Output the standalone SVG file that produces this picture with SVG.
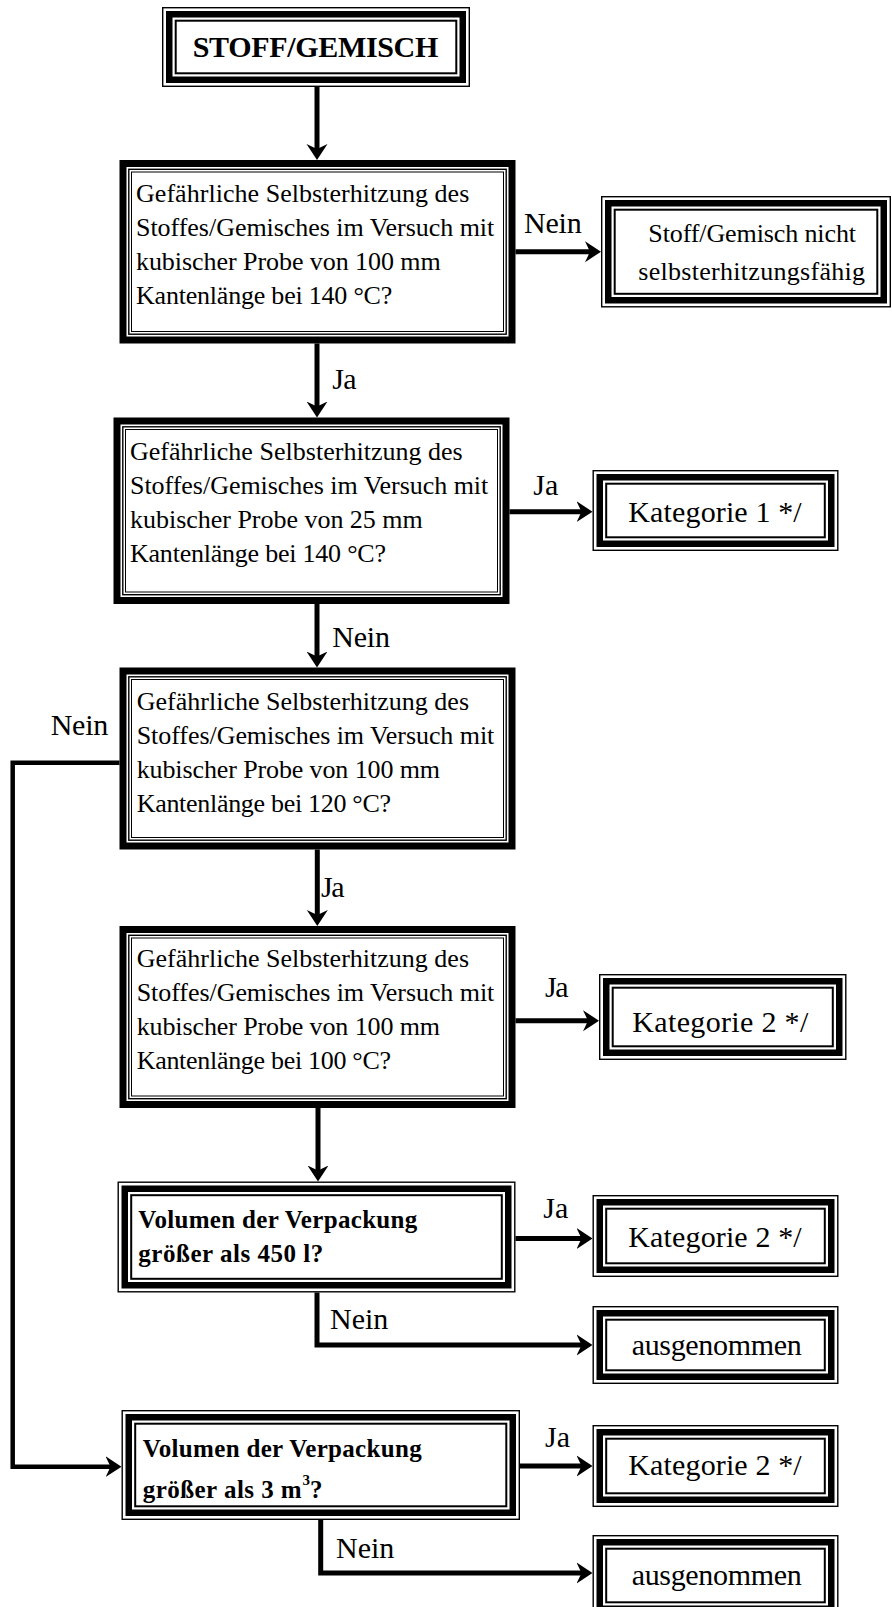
<svg xmlns="http://www.w3.org/2000/svg" width="892" height="1607" viewBox="0 0 892 1607">
<defs>
<style>
.bg{fill:#fff}
.dk{fill:#fff;stroke:#000;stroke-width:7}
.d1{fill:none;stroke:#000;stroke-width:1.4}
.d2{fill:none;stroke:#000;stroke-width:1}
.to{fill:#fff;stroke:#000;stroke-width:1.4}
.tk{fill:none;stroke:#000;stroke-width:6.5}
.ti{fill:none;stroke:#000;stroke-width:2}
.t{font-family:"Liberation Serif","Times New Roman",serif;font-size:26px;fill:#000}
.tb{font-family:"Liberation Serif","Times New Roman",serif;font-size:25px;font-weight:bold;fill:#000}
.tl{font-family:"Liberation Serif","Times New Roman",serif;font-size:30px;fill:#000}
.c{fill:none;stroke:#000;stroke-width:5;stroke-linejoin:miter;stroke-linecap:butt}
</style>
<marker id="ah" markerUnits="userSpaceOnUse" markerWidth="20" markerHeight="24" viewBox="0 -12 20 24" refX="6" refY="0" orient="auto">
<path d="M16,0 L0,-10.5 L5,0 L0,10.5 Z" fill="#000"/>
</marker>
</defs>
<rect class="bg" x="0" y="0" width="892" height="1607"/>

<g id="connectors">
<path class="c" d="M317 87 V150" marker-end="url(#ah)"/>
<path class="c" d="M515.5 251.7 H591" marker-end="url(#ah)"/>
<path class="c" d="M317 343.5 V407.5" marker-end="url(#ah)"/>
<path class="c" d="M509.5 511.7 H582.5" marker-end="url(#ah)"/>
<path class="c" d="M317 604 V657.5" marker-end="url(#ah)"/>
<path class="c" d="M119.5 762.7 H12.7 V1466.7 H111.5" style="stroke-width:4.5" marker-end="url(#ah)"/>
<path class="c" d="M317.3 849.5 V916" marker-end="url(#ah)"/>
<path class="c" d="M515.5 1020.7 H589" marker-end="url(#ah)"/>
<path class="c" d="M318 1108 V1171.5" marker-end="url(#ah)"/>
<path class="c" d="M515.5 1238.5 H582.5" marker-end="url(#ah)"/>
<path class="c" d="M317 1292.5 V1345 H582.5" marker-end="url(#ah)"/>
<path class="c" d="M520 1466 H582.5" marker-end="url(#ah)"/>
<path class="c" d="M320.7 1520 V1573 H582.5" marker-end="url(#ah)"/>
<text class="tl" x="524" y="233.3" textLength="57.7">Nein</text>
<text class="tl" x="332.3" y="389.3" textLength="24.4">Ja</text>
<text class="tl" x="533.3" y="495" textLength="25">Ja</text>
<text class="tl" x="332.3" y="646.7" textLength="57.7">Nein</text>
<text class="tl" x="50.7" y="735" textLength="57.6">Nein</text>
<text class="tl" x="321" y="896.7" textLength="23.5">Ja</text>
<text class="tl" x="545" y="996.7" textLength="23.5">Ja</text>
<text class="tl" x="543.3" y="1218.3" textLength="25">Ja</text>
<text class="tl" x="330" y="1329.3" textLength="58.3">Nein</text>
<text class="tl" x="545" y="1446.7" textLength="25">Ja</text>
<text class="tl" x="336" y="1558.3" textLength="58.3">Nein</text>
</g>

<g id="start">
<rect class="to" x="162.7" y="7.7" width="306.6" height="78.6"/>
<rect class="tk" x="169.25" y="14.25" width="293.5" height="65.5"/>
<rect class="ti" x="175.7" y="20.7" width="280.6" height="52.6"/>
<text class="tb" x="192.7" y="57.3" style="font-size:30px" textLength="245.6">STOFF/GEMISCH</text>
</g>

<g id="q1">
<rect class="dk" x="123" y="163.5" width="389" height="176.5"/>
<rect class="d1" x="128.8" y="169.3" width="377.4" height="164.9"/>
<rect class="d2" x="131.5" y="172" width="372" height="159.5"/>
<text class="t" x="136" y="202" textLength="333.3">Gefährliche Selbsterhitzung des</text>
<text class="t" x="136" y="236" textLength="358.3">Stoffes/Gemisches im Versuch mit</text>
<text class="t" x="136" y="270" textLength="304.7">kubischer Probe von 100 mm</text>
<text class="t" x="136" y="304" textLength="256.3">Kantenlänge bei 140 °C?</text>
</g>

<g id="r0">
<rect class="to" x="601.7" y="196.7" width="288.6" height="110.1"/>
<rect class="tk" x="608.25" y="203.25" width="275.5" height="97"/>
<rect class="ti" x="614.7" y="209.7" width="262.6" height="84.1"/>
<text class="t" x="648.3" y="241.7" textLength="207.7">Stoff/Gemisch nicht</text>
<text class="t" x="638.3" y="280" textLength="226.7">selbsterhitzungsfähig</text>
</g>

<g id="q2">
<rect class="dk" x="117" y="421" width="389" height="179.5"/>
<rect class="d1" x="122.8" y="426.8" width="377.4" height="167.9"/>
<rect class="d2" x="125.5" y="429.5" width="372" height="162.5"/>
<text class="t" x="130" y="460" textLength="332.7">Gefährliche Selbsterhitzung des</text>
<text class="t" x="130" y="494" textLength="358.3">Stoffes/Gemisches im Versuch mit</text>
<text class="t" x="130" y="528" textLength="292.7">kubischer Probe von 25 mm</text>
<text class="t" x="130" y="562" textLength="256">Kantenlänge bei 140 °C?</text>
</g>

<g id="r1">
<rect class="to" x="593.2" y="470.7" width="244.6" height="79.6"/>
<rect class="tk" x="599.75" y="477.25" width="231.5" height="66.5"/>
<rect class="ti" x="606.2" y="483.7" width="218.6" height="53.6"/>
<text class="tl" x="628.3" y="521.7" textLength="173.4">Kategorie 1 */</text>
</g>

<g id="q3">
<rect class="dk" x="123" y="671" width="389" height="175"/>
<rect class="d1" x="128.8" y="676.8" width="377.4" height="163.4"/>
<rect class="d2" x="131.5" y="679.5" width="372" height="158"/>
<text class="t" x="136.7" y="710" textLength="332.3">Gefährliche Selbsterhitzung des</text>
<text class="t" x="136.7" y="744" textLength="357.6">Stoffes/Gemisches im Versuch mit</text>
<text class="t" x="136.7" y="778" textLength="303.3">kubischer Probe von 100 mm</text>
<text class="t" x="136.7" y="812" textLength="254.3">Kantenlänge bei 120 °C?</text>
</g>

<g id="q4">
<rect class="dk" x="123" y="929.5" width="389" height="175"/>
<rect class="d1" x="128.8" y="935.3" width="377.4" height="163.4"/>
<rect class="d2" x="131.5" y="938" width="372" height="158"/>
<text class="t" x="136.7" y="966.5" textLength="332.3">Gefährliche Selbsterhitzung des</text>
<text class="t" x="136.7" y="1000.5" textLength="357.6">Stoffes/Gemisches im Versuch mit</text>
<text class="t" x="136.7" y="1034.5" textLength="303.3">kubischer Probe von 100 mm</text>
<text class="t" x="136.7" y="1068.5" textLength="254.3">Kantenlänge bei 100 °C?</text>
</g>

<g id="r2">
<rect class="to" x="599.7" y="974.7" width="246.1" height="84.6"/>
<rect class="tk" x="606.25" y="981.25" width="233" height="71.5"/>
<rect class="ti" x="612.7" y="987.7" width="220.1" height="58.6"/>
<text class="tl" x="632.3" y="1031.7" textLength="176">Kategorie 2 */</text>
</g>

<g id="q5">
<rect class="to" x="118.2" y="1182.2" width="396.6" height="109.6"/>
<rect class="tk" x="124.75" y="1188.75" width="383.5" height="96.5"/>
<rect class="ti" x="131.2" y="1195.2" width="370.6" height="83.6"/>
<text class="tb" x="138.3" y="1228.3" textLength="279">Volumen der Verpackung</text>
<text class="tb" x="138.3" y="1261.7" textLength="185">größer als 450 l?</text>
</g>

<g id="r3">
<rect class="to" x="593.2" y="1195.7" width="244.6" height="80.6"/>
<rect class="tk" x="599.75" y="1202.25" width="231.5" height="67.5"/>
<rect class="ti" x="606.2" y="1208.7" width="218.6" height="54.6"/>
<text class="tl" x="628.3" y="1246.7" textLength="173.4">Kategorie 2 */</text>
</g>

<g id="r4">
<rect class="to" x="593.2" y="1306.7" width="244.6" height="76.6"/>
<rect class="tk" x="599.75" y="1313.25" width="231.5" height="63.5"/>
<rect class="ti" x="606.2" y="1319.7" width="218.6" height="50.6"/>
<text class="tl" x="631.7" y="1355" textLength="170">ausgenommen</text>
</g>

<g id="q6">
<rect class="to" x="122.2" y="1410.7" width="397.1" height="108.6"/>
<rect class="tk" x="128.75" y="1417.25" width="384" height="95.5"/>
<rect class="ti" x="135.2" y="1423.7" width="371.1" height="82.6"/>
<text class="tb" x="142.7" y="1456.7" textLength="279">Volumen der Verpackung</text>
<text class="tb" x="142.7" y="1498.3" textLength="159">größer als 3 m</text>
<text class="tb" x="302.5" y="1485" style="font-size:15px">3</text>
<text class="tb" x="310" y="1498.3">?</text>
</g>

<g id="r5">
<rect class="to" x="593.2" y="1425.7" width="244.6" height="80.6"/>
<rect class="tk" x="599.75" y="1432.25" width="231.5" height="67.5"/>
<rect class="ti" x="606.2" y="1438.7" width="218.6" height="54.6"/>
<text class="tl" x="628.3" y="1475" textLength="173.4">Kategorie 2 */</text>
</g>

<g id="r6">
<rect class="to" x="593.2" y="1535.7" width="244.6" height="79.6"/>
<rect class="tk" x="599.75" y="1542.25" width="231.5" height="66.5"/>
<rect class="ti" x="606.2" y="1548.7" width="218.6" height="53.6"/>
<text class="tl" x="631.7" y="1585" textLength="170">ausgenommen</text>
</g>
</svg>
